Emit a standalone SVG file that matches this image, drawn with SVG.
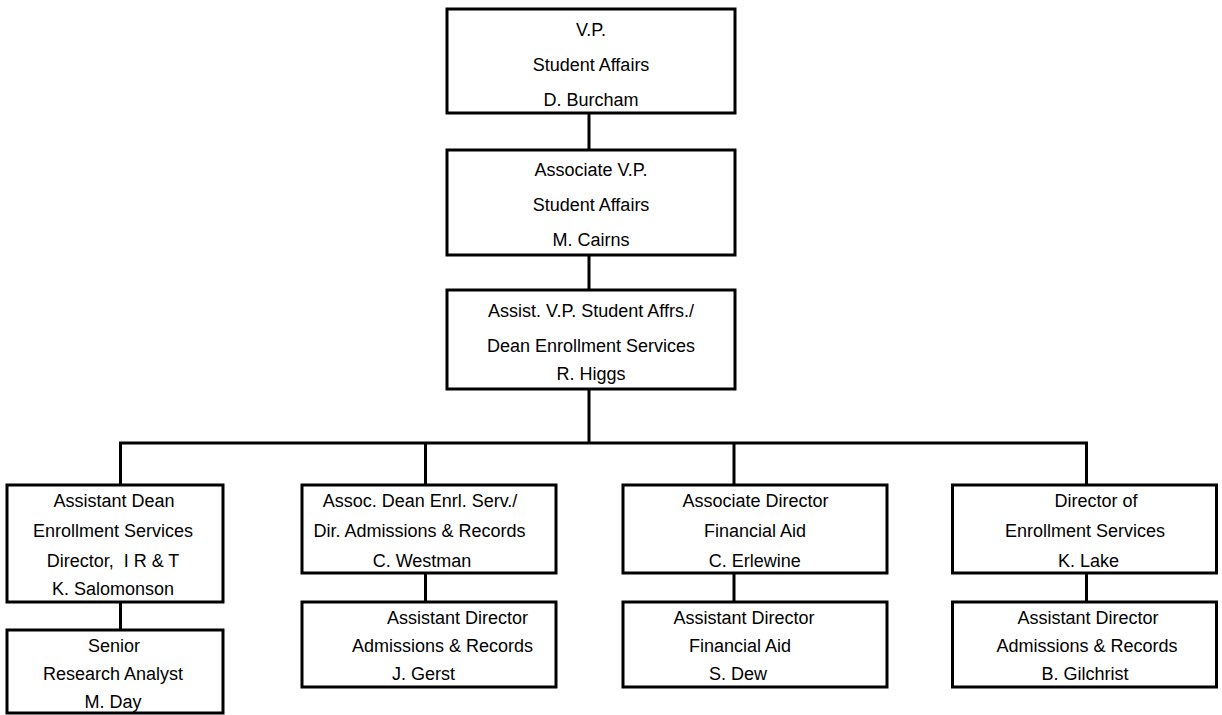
<svg xmlns="http://www.w3.org/2000/svg" width="1222" height="715" viewBox="0 0 1222 715">
<style>
.box{fill:#fff;stroke:#000;stroke-width:3}
.ln{fill:none;stroke:#000;stroke-width:3}
text{font-family:"Liberation Sans",Arial,sans-serif;font-size:18px;fill:#000}
.c{text-anchor:middle}
.pre{white-space:pre}
</style>
<rect width="1222" height="715" fill="#fff"/>
<g id="connectors">
<path class="ln" d="M589,113V150M589,255V290M589,389V443M120.5,485V443H1086.5V485M425.5,443V485M734,443V485M120.5,602V630M425.5,573V602M734,573V602M1086.5,573V602"/>
</g>
<g id="vp">
<rect class="box" x="447" y="9" width="288" height="104"/>
<text class="c" x="591" y="36">V.P.</text>
<text class="c" x="591" y="71">Student Affairs</text>
<text class="c" x="591" y="106">D. Burcham</text>
</g>
<g id="avp">
<rect class="box" x="447" y="150" width="288" height="105"/>
<text class="c" x="591" y="176">Associate V.P.</text>
<text class="c" x="591" y="211">Student Affairs</text>
<text class="c" x="591" y="246">M. Cairns</text>
</g>
<g id="asvp">
<rect class="box" x="447" y="290" width="288" height="99"/>
<text class="c" x="591" y="317">Assist. V.P. Student Affrs./</text>
<text class="c" x="591" y="352">Dean Enrollment Services</text>
<text class="c" x="591" y="380">R. Higgs</text>
</g>
<g id="ad">
<rect class="box" x="7" y="485" width="216" height="117"/>
<text class="c" x="114" y="507">Assistant Dean</text>
<text class="c" x="113" y="537">Enrollment Services</text>
<text class="c pre" x="113" y="567" xml:space="preserve">Director,  I R &amp; T</text>
<text class="c" x="113" y="595">K. Salomonson</text>
</g>
<g id="sra">
<rect class="box" x="7" y="630" width="216" height="83"/>
<text class="c" x="114" y="652">Senior</text>
<text class="c" x="113" y="680">Research Analyst</text>
<text class="c" x="113" y="708">M. Day</text>
</g>
<g id="adar">
<rect class="box" x="302" y="485" width="254" height="88"/>
<text class="c" x="420" y="507">Assoc. Dean Enrl. Serv./</text>
<text class="c" x="419.5" y="537">Dir. Admissions &amp; Records</text>
<text class="c" x="422" y="567">C. Westman</text>
</g>
<g id="asdar">
<rect class="box" x="302" y="602" width="254" height="85"/>
<text x="387" y="624">Assistant Director</text>
<text x="352" y="652">Admissions &amp; Records</text>
<text x="392" y="680">J. Gerst</text>
</g>
<g id="adfa">
<rect class="box" x="623" y="485" width="264" height="88"/>
<text class="c" x="755.5" y="507">Associate Director</text>
<text class="c" x="755" y="537">Financial Aid</text>
<text class="c" x="754.7" y="567">C. Erlewine</text>
</g>
<g id="asdfa">
<rect class="box" x="623" y="602" width="264" height="85"/>
<text class="c" x="744" y="624">Assistant Director</text>
<text class="c" x="740" y="652">Financial Aid</text>
<text class="c" x="738" y="680">S. Dew</text>
</g>
<g id="des">
<rect class="box" x="952.5" y="485" width="264" height="88"/>
<text class="c" x="1096" y="507">Director of</text>
<text class="c" x="1085" y="537">Enrollment Services</text>
<text class="c" x="1088.5" y="567">K. Lake</text>
</g>
<g id="asdar2">
<rect class="box" x="952.5" y="602" width="264" height="85"/>
<text class="c" x="1088" y="624">Assistant Director</text>
<text class="c" x="1087" y="652">Admissions &amp; Records</text>
<text class="c" x="1085" y="680">B. Gilchrist</text>
</g>
</svg>
